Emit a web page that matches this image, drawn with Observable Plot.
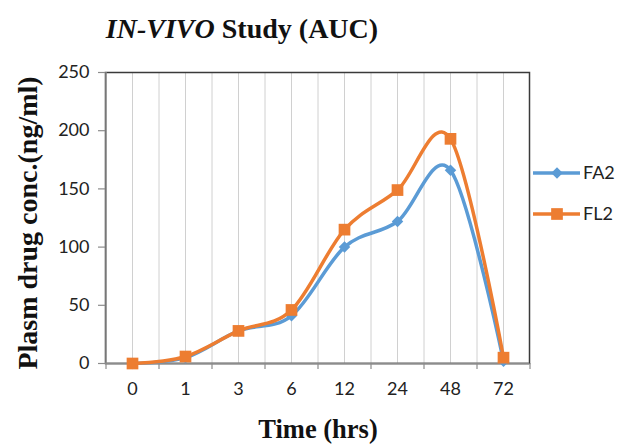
<!DOCTYPE html>
<html><head><meta charset="utf-8">
<script src="https://cdn.jsdelivr.net/npm/d3@7"></script>
<script src="https://cdn.jsdelivr.net/npm/@observablehq/plot@0.6"></script>
<style>
body{margin:0;background:#fff;}
#wrap{position:relative;width:628px;height:445px;overflow:hidden;}
#wrap svg{position:absolute;left:0;top:0;}
.title{position:absolute;left:0;top:0;width:484px;text-align:center;font-family:"Liberation Serif",serif;font-weight:bold;font-size:28px;line-height:1;top:15px;color:#111;}
.xlab{position:absolute;left:0;width:636px;text-align:center;top:416px;font-family:"Liberation Serif",serif;font-weight:bold;font-size:26.5px;line-height:1;color:#111;}
.ylab{position:absolute;left:28px;top:223px;transform:translate(-50%,-50%) rotate(-90deg);white-space:nowrap;font-family:"Liberation Serif",serif;font-weight:bold;font-size:28px;line-height:1;color:#111;}
</style></head><body><div id="wrap"></div>
<script>
const times = ["0","1","3","6","12","24","48","72"];
const fa2 = [0, 5, 28, 41, 100, 122, 166, 2];
const fl2 = [0, 6, 28, 46, 115, 149, 193, 5];
const yTicks = [0, 50, 100, 150, 200, 250];
const seriesNames = ["FA2", "FL2"];
const seriesColors = ["#5B9BD5", "#ED7D31"];
const seriesSymbols = ["diamond2", "square"];

const W = 628, H = 445, mL = 105, mR = 99, mT = 72, mB = 82;
const frameW = W - mL - mR, frameH = H - mT - mB;
const step = frameW / times.length;

const data = [];
[fa2, fl2].forEach((vals, si) => vals.forEach((v, i) => data.push({t: times[i], v, s: seriesNames[si]})));
const sData = name => data.filter(d => d.s === name);

const font = "Lato, 'Open Sans', sans-serif";
const chart = Plot.plot({
  width: W, height: H,
  marginLeft: mL, marginRight: mR, marginTop: mT, marginBottom: mB,
  x: {type: "point", domain: times, padding: 0.5, axis: null},
  y: {domain: [0, 250], axis: null},
  style: {fontFamily: font, background: "#fff"},
  marks: [
    Plot.ruleX(times, {x: d => d, stroke: "#d0d0d0", strokeWidth: 1}),
    Plot.ruleX(times.slice(1), {x: d => d, dx: -step / 2, stroke: "#d0d0d0", strokeWidth: 1}),
    Plot.frame({stroke: "#3a3a3a", strokeWidth: 1.5}),
    Plot.ruleX([times[0]], {x: d => d, dx: -step / 2, stroke: "#8c8c8c", strokeWidth: 1.5}),
    Plot.ruleY([0], {stroke: "#8c8c8c", strokeWidth: 2}),
    Plot.ruleX(times, {x: d => d, dx: -step / 2, insetTop: frameH, insetBottom: -6, stroke: "#8c8c8c", strokeWidth: 1.2}),
    Plot.ruleX([times[times.length - 1]], {x: d => d, dx: step / 2, insetTop: frameH, insetBottom: -6, stroke: "#8c8c8c", strokeWidth: 1.2}),
    Plot.ruleY(yTicks, {y: d => d, insetLeft: -7, insetRight: frameW, stroke: "#8c8c8c", strokeWidth: 1.2}),
    Plot.text(yTicks, {y: d => d, text: d => String(d), frameAnchor: "left", dx: -16, textAnchor: "end", fontSize: 18, fill: "#222"}),
    Plot.text(times, {x: d => d, text: d => d, frameAnchor: "bottom", dy: 31, fontSize: 18, fill: "#222"}),
    Plot.line(sData("FA2"), {x: "t", y: "v", stroke: seriesColors[0], strokeWidth: 3.5, curve: "cardinal"}),
    Plot.dot(sData("FA2"), {x: "t", y: "v", fill: seriesColors[0], symbol: seriesSymbols[0], r: 5.2}),
    Plot.line(sData("FL2"), {x: "t", y: "v", stroke: seriesColors[1], strokeWidth: 3.5, curve: "cardinal"}),
    Plot.dot(sData("FL2"), {x: "t", y: "v", fill: seriesColors[1], symbol: seriesSymbols[1], r: 6.6})
  ]
});

const wrap = document.getElementById("wrap");
wrap.appendChild(chart);

const ns = "http://www.w3.org/2000/svg";
const leg = document.createElementNS(ns, "svg");
leg.setAttribute("width", W); leg.setAttribute("height", H);
leg.style.pointerEvents = "none";
seriesNames.forEach((name, i) => {
  const y = 173 + i * 41;
  const g = d3.select(leg).append("g");
  g.append("line").attr("x1", 533).attr("x2", 580).attr("y1", y).attr("y2", y)
    .attr("stroke", seriesColors[i]).attr("stroke-width", 3.5);
  g.append("path").attr("transform", `translate(557,${y})`)
    .attr("d", d3.symbol(i === 0 ? d3.symbolDiamond2 : d3.symbolSquare, i === 0 ? Math.PI * 5.2 * 5.2 : Math.PI * 6.6 * 6.6)())
    .attr("fill", seriesColors[i]);
  g.append("text").attr("x", 583).attr("y", y).attr("dy", "0.35em")
    .attr("font-family", font).attr("font-size", 18).attr("fill", "#222").text(name);
});
wrap.appendChild(leg);

const title = document.createElement("div");
title.className = "title";
title.innerHTML = "<i>IN-VIVO</i> Study (AUC)";
wrap.appendChild(title);

const xl = document.createElement("div");
xl.className = "xlab"; xl.textContent = "Time (hrs)";
wrap.appendChild(xl);

const yl = document.createElement("div");
yl.className = "ylab"; yl.textContent = "Plasm drug conc.(ng/ml)";
wrap.appendChild(yl);
</script>
</body></html>
